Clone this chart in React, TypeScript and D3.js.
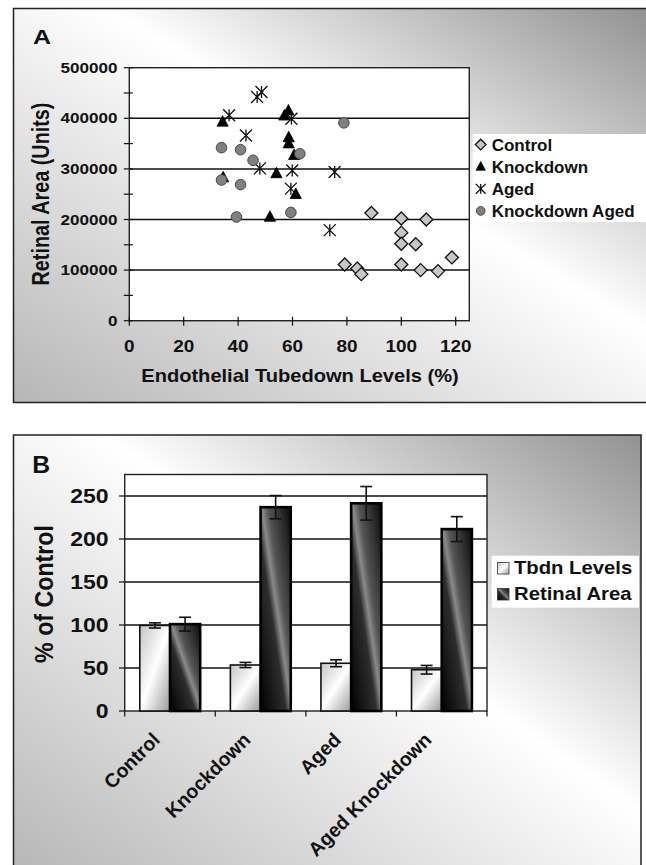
import React from "react";
import * as d3 from "d3";

// ---------- Panel A data ----------
const controlX = [89, 100, 109.2, 100, 100, 105.3, 100, 79.2, 83.8, 85.3, 107.1, 113.5, 118.6];
const controlY = [213000, 202000, 200000, 174000, 152000, 151000, 111000, 111000, 103000, 92000, 100000, 98000, 125000];
const knockdownX = [34.3, 57, 58.5, 58.6, 58.6, 60.6, 34.5, 54.1, 61.2, 51.7];
const knockdownY = [393000, 405000, 415000, 362000, 350000, 327000, 283000, 291000, 250000, 205000];
const agedX = [36.7, 47, 48.6, 59.6, 42.9, 48, 59.9, 75.5, 59.4, 73.7];
const agedY = [406000, 442000, 452000, 399000, 366000, 301000, 297000, 294000, 261000, 179000];
const kdAgedX = [33.9, 40.9, 45.5, 62.7, 33.9, 40.9, 78.9, 39.4, 59.4];
const kdAgedY = [342000, 338000, 317000, 330000, 278000, 269000, 391000, 205000, 214000];
const xTicksA = [0, 20, 40, 60, 80, 100, 120];
const yTicksA = [0, 100000, 200000, 300000, 400000, 500000];
const yMinorA = [50000, 150000, 250000, 350000, 450000];
const legendA = ["Control", "Knockdown", "Aged", "Knockdown Aged"];

// ---------- Panel B data ----------
const categories = ["Control", "Knockdown", "Aged", "Aged Knockdown"];
const tbdnLevels = [99.5, 53.5, 55.5, 48];
const tbdnErr = [3, 3, 4, 5];
const retinalArea = [101, 237, 241.5, 211.5];
const retinalErr = [8, 13.5, 19.5, 14.5];
const yTicksB = [0, 50, 100, 150, 200, 250];
const legendB = ["Tbdn Levels", "Retinal Area"];

const FONT = "'Liberation Sans', Arial, Helvetica, sans-serif";

function T({ x, y, sx = 1, size, anchor = "start", rot = 0, children, fill = "#111" }: any) {
  return (
    <text
      transform={`translate(${x},${y}) scale(${sx},1) rotate(${rot})`}
      fontSize={size}
      textAnchor={anchor}
      fontWeight="bold"
      fontFamily={FONT}
      fill={fill}
    >
      {children}
    </text>
  );
}

function Marker({ kind, x, y, s = 1 }: { kind: number; x: number; y: number; s?: number }) {
  if (kind === 0)
    return (
      <path
        d={`M${x},${y - 6.5 * s} L${x + 6.5 * s},${y} L${x},${y + 6.5 * s} L${x - 6.5 * s},${y} Z`}
        fill="#c6c6c6"
        stroke="#111"
        strokeWidth={1.3}
      />
    );
  if (kind === 1)
    return (
      <path
        d={`M${x},${y - 6.2 * s} L${x + 5.6 * s},${y + 4.3 * s} L${x - 5.6 * s},${y + 4.3 * s} Z`}
        fill="#000"
        stroke="#000"
        strokeWidth={0.8}
      />
    );
  if (kind === 2) {
    const h = 6 * s;
    return (
      <path
        d={`M${x - h},${y - h} L${x + h},${y + h} M${x - h},${y + h} L${x + h},${y - h} M${x},${y - h} L${x},${y + h}`}
        stroke="#111"
        strokeWidth={1.3}
        fill="none"
      />
    );
  }
  return <circle cx={x} cy={y} r={5.3 * s} fill="#808080" stroke="#4a4a4a" strokeWidth={1} />;
}

export default function App() {
  // Panel A scales
  const xA = d3.scaleLinear().domain([0, 125]).range([129.3, 469.3]);
  const yA = d3.scaleLinear().domain([0, 500000]).range([320.7, 67.7]);
  const seriesA = [
    { xs: controlX, ys: controlY },
    { xs: knockdownX, ys: knockdownY },
    { xs: agedX, ys: agedY },
    { xs: kdAgedX, ys: kdAgedY },
  ];

  // Panel B scales
  const xB = d3.scaleBand<string>().domain(categories).range([124.7, 487]).paddingInner(0).paddingOuter(0);
  const inner = d3
    .scaleBand<string>()
    .domain(["tbdn", "retinal"])
    .range([0, xB.bandwidth()])
    .paddingInner(0)
    .paddingOuter(0.5);
  const yB = d3.scaleLinear().domain([0, 275]).range([711, 474.5]);
  const bw = inner.bandwidth();

  return (
    <svg width={646} height={865} style={{ position: "absolute", left: 0, top: 0 }}>
      <defs>
        <linearGradient id="bgA" x1="0" y1="1" x2="1" y2="0">
          <stop offset="0" stopColor="#b6b6b6" />
          <stop offset="0.57" stopColor="#ffffff" />
          <stop offset="1" stopColor="#8c8c8c" />
        </linearGradient>
        <linearGradient id="bgB" x1="0" y1="1" x2="1" y2="0">
          <stop offset="0" stopColor="#b6b6b6" />
          <stop offset="0.57" stopColor="#ffffff" />
          <stop offset="1" stopColor="#929292" />
        </linearGradient>
        <linearGradient id="light" x1="0" y1="0" x2="1" y2="1">
          <stop offset="0" stopColor="#c4c4c4" />
          <stop offset="0.5" stopColor="#ffffff" />
          <stop offset="1" stopColor="#9a9a9a" />
        </linearGradient>
        <linearGradient id="dark" x1="0" y1="1" x2="1" y2="0">
          <stop offset="0" stopColor="#000" />
          <stop offset="0.42" stopColor="#2e2e2e" />
          <stop offset="0.52" stopColor="#8a8a8a" />
          <stop offset="0.62" stopColor="#555" />
          <stop offset="1" stopColor="#0a0a0a" />
        </linearGradient>
      </defs>

      {/* ================= Panel A ================= */}
      <rect x={13.5} y={8.5} width={660} height={394} fill="url(#bgA)" stroke="#222" strokeWidth={1.5} />
      <T x={33} y={43.5} size={20.5} sx={1.22}>A</T>
      <rect x={xA(0)} y={yA(500000)} width={xA(125) - xA(0)} height={yA(0) - yA(500000)} fill="#fff" />
      {yTicksA.filter((v) => v > 0 && v < 500000).map((v) => (
        <line key={v} x1={xA(0)} x2={xA(125)} y1={yA(v)} y2={yA(v)} stroke="#111" strokeWidth={1.5} />
      ))}
      <rect
        x={xA(0)}
        y={yA(500000)}
        width={xA(125) - xA(0)}
        height={yA(0) - yA(500000)}
        fill="none"
        stroke="#222"
        strokeWidth={1.4}
      />
      {yTicksA.concat(yMinorA).map((v) => (
        <line key={"yt" + v} x1={xA(0) - 5.5} x2={xA(0) + 3.5} y1={yA(v)} y2={yA(v)} stroke="#111" strokeWidth={1.2} />
      ))}
      {xTicksA.map((v) => (
        <line key={"xt" + v} x1={xA(v)} x2={xA(v)} y1={yA(0) - 4} y2={yA(0) + 5} stroke="#111" strokeWidth={1.2} />
      ))}
      {yTicksA.map((v) => (
        <T key={"yl" + v} x={117.5} y={yA(v) + 5} size={14} sx={1.22} anchor="end">
          {String(v)}
        </T>
      ))}
      {xTicksA.map((v) => (
        <T key={"xl" + v} x={xA(v)} y={351.7} size={17.2} sx={1.1} anchor="middle">
          {String(v)}
        </T>
      ))}
      <T x={300} y={381.7} size={18.6} sx={1.08} anchor="middle">
        Endothelial Tubedown Levels (%)
      </T>
      <text
        transform="translate(49,194) scale(1.17,1) rotate(-90)"
        fontSize={19.8}
        textAnchor="middle"
        fontWeight="bold"
        fontFamily={FONT}
        fill="#111"
      >
        Retinal Area (Units)
      </text>

      {seriesA.map((s, k) =>
        s.xs.map((xv, i) => <Marker key={k + "-" + i} kind={k} x={xA(xv)} y={yA(s.ys[i])} />)
      )}

      {/* legend A */}
      <rect x={472.7} y={134} width={180} height={88} fill="#fff" />
      {legendA.map((name, i) => (
        <g key={name}>
          <Marker kind={i} x={480.7} y={144.6 + i * 22.1} s={0.82} />
          <T x={491.7} y={150.7 + i * 22.1} size={17}>
            {name}
          </T>
        </g>
      ))}

      {/* ================= Panel B ================= */}
      <rect x={13.5} y={435} width={627.5} height={440} fill="url(#bgB)" stroke="#222" strokeWidth={1.5} />
      <T x={32.3} y={472.7} size={24.7}>B</T>
      <rect x={124.7} y={yB(275)} width={487 - 124.7} height={yB(0) - yB(275)} fill="#fff" />
      {yTicksB.filter((v) => v > 0).map((v) => (
        <line key={"gb" + v} x1={124.7} x2={487} y1={yB(v)} y2={yB(v)} stroke="#111" strokeWidth={1.5} />
      ))}
      <rect
        x={124.7}
        y={yB(275)}
        width={487 - 124.7}
        height={yB(0) - yB(275)}
        fill="none"
        stroke="#222"
        strokeWidth={1.4}
      />
      {yTicksB.map((v) => (
        <line key={"ytb" + v} x1={119} x2={124.7} y1={yB(v)} y2={yB(v)} stroke="#111" strokeWidth={1.2} />
      ))}
      {categories.concat(["end"]).map((c, i) => {
        const x = i < categories.length ? (xB(c) as number) : 487;
        return <line key={"xtb" + i} x1={x} x2={x} y1={711} y2={716.5} stroke="#111" strokeWidth={1.2} />;
      })}
      {yTicksB.map((v) => (
        <T key={"ylb" + v} x={108.5} y={yB(v) + 6.5} size={20} sx={1.15} anchor="end">
          {String(v)}
        </T>
      ))}
      <text
        transform="translate(53.3,594) scale(1.1,1) rotate(-90)"
        fontSize={23.2}
        textAnchor="middle"
        fontWeight="bold"
        fontFamily={FONT}
        fill="#111"
      >
        % of Control
      </text>

      {categories.map((c, i) => {
        const x0 = xB(c) as number;
        const xt = x0 + (inner("tbdn") as number);
        const xr = x0 + (inner("retinal") as number);
        return (
          <g key={"bars" + c}>
            <rect x={xt} y={yB(tbdnLevels[i])} width={bw} height={yB(0) - yB(tbdnLevels[i])} fill="url(#light)" stroke="#111" strokeWidth={1.6} />
            <rect x={xr} y={yB(retinalArea[i])} width={bw} height={yB(0) - yB(retinalArea[i])} fill="url(#dark)" stroke="#000" strokeWidth={2.6} />
            {[
              { x: xt + bw / 2, v: tbdnLevels[i], e: tbdnErr[i] },
              { x: xr + bw / 2, v: retinalArea[i], e: retinalErr[i] },
            ].map((eb, j) => (
              <g key={j} stroke="#111" strokeWidth={1.6}>
                <line x1={eb.x} x2={eb.x} y1={yB(eb.v + eb.e)} y2={yB(eb.v - eb.e)} />
                <line x1={eb.x - 6} x2={eb.x + 6} y1={yB(eb.v + eb.e)} y2={yB(eb.v + eb.e)} />
                <line x1={eb.x - 6} x2={eb.x + 6} y1={yB(eb.v - eb.e)} y2={yB(eb.v - eb.e)} />
              </g>
            ))}
            <T x={x0 + xB.bandwidth() / 2 - 9} y={741} size={19.5} anchor="end" rot={-45}>
              {c}
            </T>
          </g>
        );
      })}

      {/* legend B */}
      <rect x={491.7} y={555.7} width={147.3} height={52} fill="#fff" />
      {legendB.map((name, i) => (
        <g key={name}>
          <rect
            x={497.5}
            y={562.5 + i * 26}
            width={11.5}
            height={11.5}
            fill={i === 0 ? "url(#light)" : "url(#dark)"}
            stroke="#333"
            strokeWidth={0.8}
          />
          <T x={514} y={574 + i * 25.5} size={18.6} sx={1.09}>
            {name}
          </T>
        </g>
      ))}
    </svg>
  );
}
